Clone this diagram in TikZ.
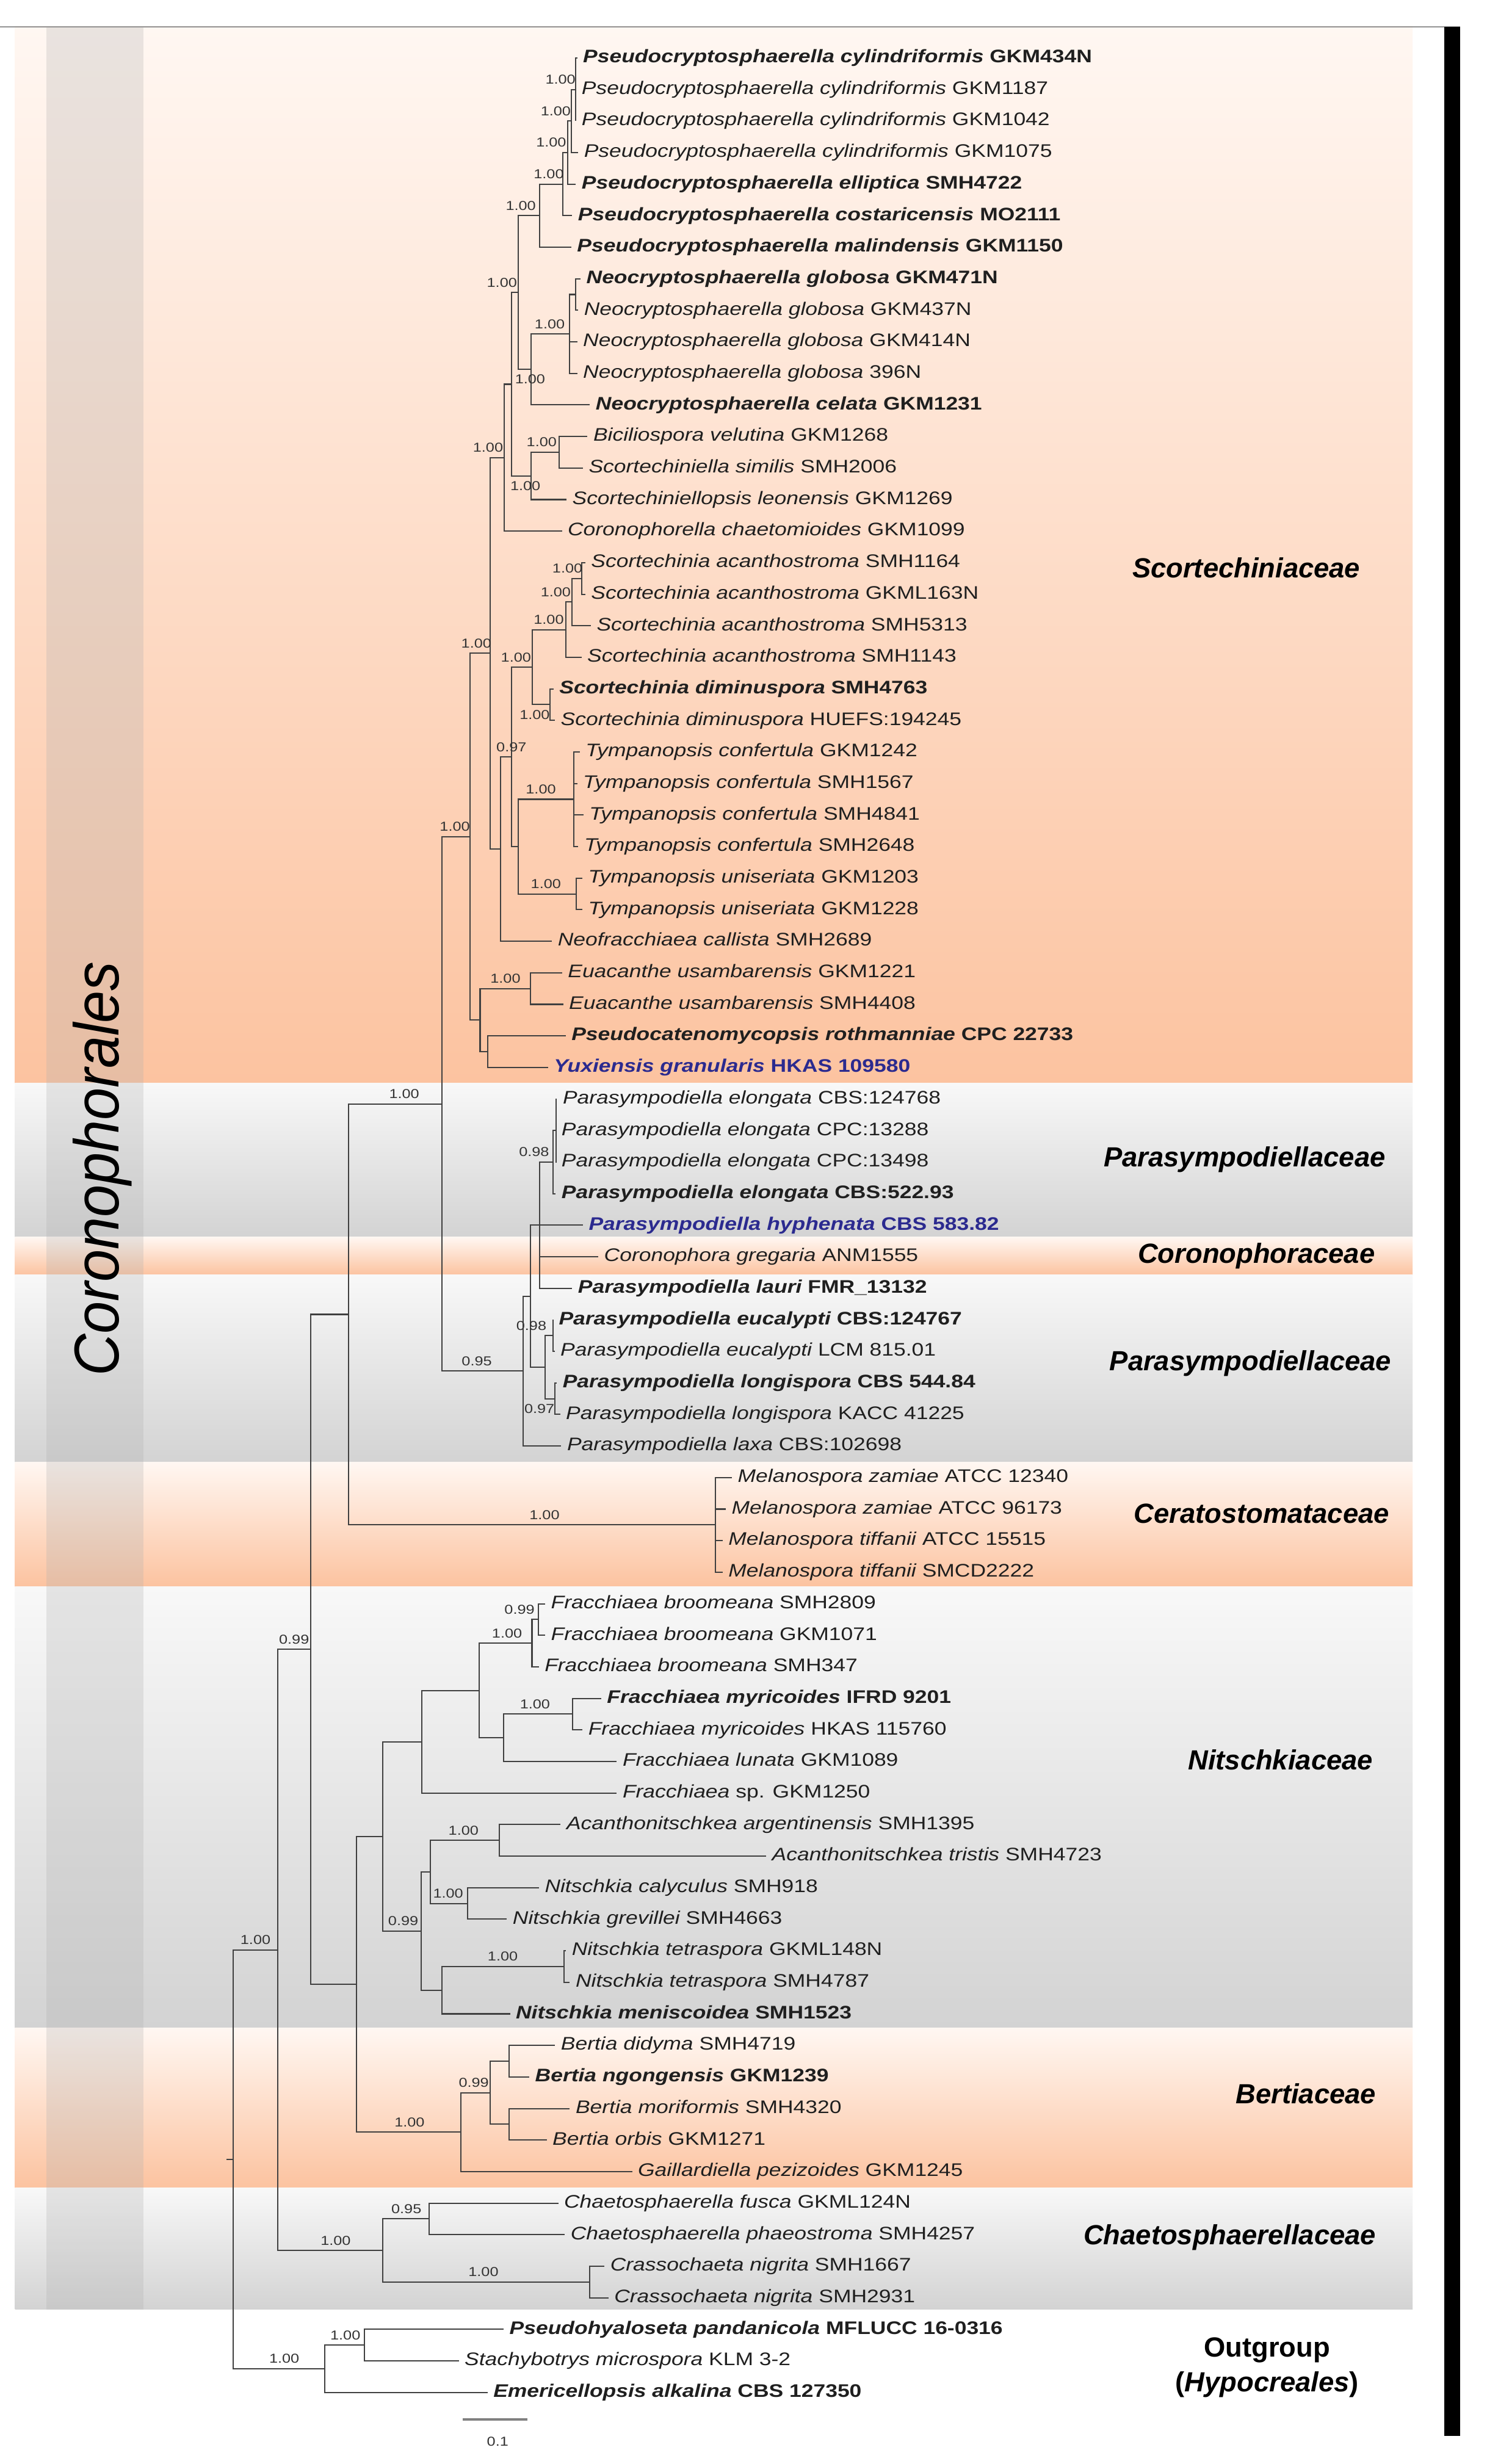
\documentclass[tikz,border=0pt]{standalone}
\usepackage{fontspec}
\newfontfamily\tx[FakeStretch=1.19]{Liberation Sans}
\newfontfamily\lsans{Liberation Sans}
\newfontfamily\lcoro[FakeStretch=0.92]{Liberation Sans}
\definecolor{orTop}{HTML}{FFF7F2}
\definecolor{orBot}{HTML}{FCC3A0}
\definecolor{grTop}{HTML}{F8F8F8}
\definecolor{grBot}{HTML}{D3D3D3}
\definecolor{blueT}{HTML}{2B2A8F}
\definecolor{colGray}{HTML}{AFAFAF}
\newcommand\nm[2]{{\itshape #1} #2}
\newcommand\bnm[2]{{\bfseries\itshape #1} {\bfseries #2}}
\newcommand\blnm[2]{\textcolor{blueT}{\bnm{#1}{#2}}}
\newcommand\tipn[3]{\node[tip] (t#1) at ({#2-3.5},#1) {#3};}
\newcommand\edg[2]{\draw[br] (#1) |- (#2);}
\newcommand\edt[2]{\draw[br] (#1) |- (t#2.west);}
\newcounter{lbc}
\newcommand\lbA[3]{\stepcounter{lbc}\node[lab, yshift=6.3pt] (lb\arabic{lbc}) at (#1,#2) {#3};}
\newcommand\lbB[3]{\stepcounter{lbc}\node[lab, yshift=-6.3pt] (lb\arabic{lbc}) at (#1,#2) {#3};}
\tikzset{
  br/.style={draw=black!75, line width=0.8pt},
  tip/.style={anchor=west, inner xsep=3.5pt, inner ysep=0pt, text height=8pt, text depth=2pt,
     font=\tx\fontsize{11.5}{13}\selectfont, text=black!88},
  lab/.style={inner sep=0pt, font=\tx\fontsize{8.2}{9}\selectfont, text=black!80},
  fam/.style={anchor=base east, inner sep=0pt, font=\lsans\fontsize{17.5}{20}\selectfont\bfseries\itshape},
  ogs/.style={anchor=base, inner sep=0pt, font=\lsans\fontsize{17.5}{20}\selectfont\bfseries},
}
\begin{document}
\begin{tikzpicture}[x=1pt,y=-1pt]
\useasboundingbox (0,0) rectangle (940,1557.8);
\fill[white] (0,0) rectangle (940,1557.8);
% bands
\shade[top color=orTop, bottom color=orBot] (9.5,16.5) rectangle (893,684.8);
\shade[top color=grTop, bottom color=grBot] (9.5,684.8) rectangle (893,782);
\shade[top color=orTop, bottom color=orBot] (9.5,782) rectangle (893,806);
\shade[top color=grTop, bottom color=grBot] (9.5,806) rectangle (893,924.5);
\shade[top color=orTop, bottom color=orBot] (9.5,924.5) rectangle (893,1003);
\shade[top color=grTop, bottom color=grBot] (9.5,1003) rectangle (893,1282);
\shade[top color=orTop, bottom color=orBot] (9.5,1282) rectangle (893,1383);
\shade[top color=grTop, bottom color=grBot] (9.5,1383) rectangle (893,1460);
\fill[colGray, opacity=0.27] (29.5,16.5) rectangle (90.5,1460);
\node[rotate=90, anchor=base, inner sep=0pt, font=\lcoro\fontsize{40}{44}\selectfont\itshape] (corolab) at (75,739) {Coronophorales};
% frame
\draw[gray!85, line width=1pt] (0,17) -- (923,17);
\fill[black] (913,17) rectangle (923,1540);
% family labels
\node[fam] (f1) at (860,365.2) {Scortechiniaceae};
\node[fam] (f2) at (876,737.5) {Parasympodiellaceae};
\node[fam] (f3) at (869.3,798.5) {Coronophoraceae};
\node[fam] (f4) at (879.7,866.6) {Parasympodiellaceae};
\node[fam] (f5) at (878.4,962.9) {Ceratostomataceae};
\node[fam] (f6) at (868,1118.9) {Nitschkiaceae};
\node[fam] (f7) at (870,1329.8) {Bertiaceae};
\node[fam] (f8) at (870,1419.2) {Chaetosphaerellaceae};
\node[ogs] (og1) at (801,1490) {Outgroup};
\node[ogs] (og2) at (801,1512) {(\textit{Hypocreales})};
% scale bar
\coordinate (sb1) at (292.6,1529.6);
\coordinate (sb2) at (333.3,1529.6);
\draw[gray, line width=1.2pt] (sb1) -- (sb2);
\node[lab] (sbl) at (314.6,1543.5) {0.1};
% tree
\begin{scope}[y=-19.945pt, yshift=-16.655pt]
\tipn{1}{368.4}{\bnm{Pseudocryptosphaerella cylindriformis}{GKM434N}}
\tipn{2}{367.5}{\nm{Pseudocryptosphaerella cylindriformis}{GKM1187}}
\tipn{3}{367.5}{\nm{Pseudocryptosphaerella cylindriformis}{GKM1042}}
\tipn{4}{369.0}{\nm{Pseudocryptosphaerella cylindriformis}{GKM1075}}
\tipn{5}{367.5}{\bnm{Pseudocryptosphaerella elliptica}{SMH4722}}
\tipn{6}{365.2}{\bnm{Pseudocryptosphaerella costaricensis}{MO2111}}
\tipn{7}{364.6}{\bnm{Pseudocryptosphaerella malindensis}{GKM1150}}
\tipn{8}{370.5}{\bnm{Neocryptosphaerella globosa}{GKM471N}}
\tipn{9}{369.0}{\nm{Neocryptosphaerella globosa}{GKM437N}}
\tipn{10}{368.4}{\nm{Neocryptosphaerella globosa}{GKM414N}}
\tipn{11}{368.4}{\nm{Neocryptosphaerella globosa}{396N}}
\tipn{12}{376.4}{\bnm{Neocryptosphaerella celata}{GKM1231}}
\tipn{13}{374.9}{\nm{Biciliospora velutina}{GKM1268}}
\tipn{14}{372.0}{\nm{Scortechiniella similis}{SMH2006}}
\tipn{15}{361.6}{\nm{Scortechiniellopsis leonensis}{GKM1269}}
\tipn{16}{358.7}{\nm{Coronophorella chaetomioides}{GKM1099}}
\tipn{17}{373.5}{\nm{Scortechinia acanthostroma}{SMH1164}}
\tipn{18}{373.5}{\nm{Scortechinia acanthostroma}{GKML163N}}
\tipn{19}{377.0}{\nm{Scortechinia acanthostroma}{SMH5313}}
\tipn{20}{371.1}{\nm{Scortechinia acanthostroma}{SMH1143}}
\tipn{21}{353.4}{\bnm{Scortechinia diminuspora}{SMH4763}}
\tipn{22}{354.3}{\nm{Scortechinia diminuspora}{HUEFS:194245}}
\tipn{23}{370.0}{\nm{Tympanopsis confertula}{GKM1242}}
\tipn{24}{368.4}{\nm{Tympanopsis confertula}{SMH1567}}
\tipn{25}{372.3}{\nm{Tympanopsis confertula}{SMH4841}}
\tipn{26}{369.1}{\nm{Tympanopsis confertula}{SMH2648}}
\tipn{27}{371.6}{\nm{Tympanopsis uniseriata}{GKM1203}}
\tipn{28}{371.6}{\nm{Tympanopsis uniseriata}{GKM1228}}
\tipn{29}{352.4}{\nm{Neofracchiaea callista}{SMH2689}}
\tipn{30}{358.8}{\nm{Euacanthe usambarensis}{GKM1221}}
\tipn{31}{359.5}{\nm{Euacanthe usambarensis}{SMH4408}}
\tipn{32}{361.1}{\bnm{Pseudocatenomycopsis rothmanniae}{CPC 22733}}
\tipn{33}{349.9}{\blnm{Yuxiensis granularis}{HKAS 109580}}
\tipn{34}{355.6}{\nm{Parasympodiella elongata}{CBS:124768}}
\tipn{35}{354.8}{\nm{Parasympodiella elongata}{CPC:13288}}
\tipn{36}{354.8}{\nm{Parasympodiella elongata}{CPC:13498}}
\tipn{37}{354.8}{\bnm{Parasympodiella elongata}{CBS:522.93}}
\tipn{38}{372.0}{\blnm{Parasympodiella hyphenata}{CBS 583.82}}
\tipn{39}{381.7}{\nm{Coronophora gregaria}{ANM1555}}
\tipn{40}{365.2}{\bnm{Parasympodiella lauri}{FMR\_13132}}
\tipn{41}{353.1}{\bnm{Parasympodiella eucalypti}{CBS:124767}}
\tipn{42}{354.1}{\nm{Parasympodiella eucalypti}{LCM 815.01}}
\tipn{43}{355.5}{\bnm{Parasympodiella longispora}{CBS 544.84}}
\tipn{44}{357.6}{\nm{Parasympodiella longispora}{KACC 41225}}
\tipn{45}{358.3}{\nm{Parasympodiella laxa}{CBS:102698}}
\tipn{46}{466.2}{\nm{Melanospora zamiae}{ATCC 12340}}
\tipn{47}{462.3}{\nm{Melanospora zamiae}{ATCC 96173}}
\tipn{48}{460.3}{\nm{Melanospora tiffanii}{ATCC 15515}}
\tipn{49}{460.3}{\nm{Melanospora tiffanii}{SMCD2222}}
\tipn{50}{348.1}{\nm{Fracchiaea broomeana}{SMH2809}}
\tipn{51}{348.1}{\nm{Fracchiaea broomeana}{GKM1071}}
\tipn{52}{344.1}{\nm{Fracchiaea broomeana}{SMH347}}
\tipn{53}{383.5}{\bnm{Fracchiaea myricoides}{IFRD 9201}}
\tipn{54}{371.7}{\nm{Fracchiaea myricoides}{HKAS 115760}}
\tipn{55}{393.4}{\nm{Fracchiaea lunata}{GKM1089}}
\tipn{56}{393.4}{\nm{Fracchiaea}{sp. GKM1250}}
\tipn{57}{357.9}{\nm{Acanthonitschkea argentinensis}{SMH1395}}
\tipn{58}{487.8}{\nm{Acanthonitschkea tristis}{SMH4723}}
\tipn{59}{344.2}{\nm{Nitschkia calyculus}{SMH918}}
\tipn{60}{323.9}{\nm{Nitschkia grevillei}{SMH4663}}
\tipn{61}{361.3}{\nm{Nitschkia tetraspora}{GKML148N}}
\tipn{62}{363.7}{\nm{Nitschkia tetraspora}{SMH4787}}
\tipn{63}{325.9}{\bnm{Nitschkia meniscoidea}{SMH1523}}
\tipn{64}{354.4}{\nm{Bertia didyma}{SMH4719}}
\tipn{65}{338.1}{\bnm{Bertia ngongensis}{GKM1239}}
\tipn{66}{363.7}{\nm{Bertia moriformis}{SMH4320}}
\tipn{67}{349.1}{\nm{Bertia orbis}{GKM1271}}
\tipn{68}{403.1}{\nm{Gaillardiella pezizoides}{GKM1245}}
\tipn{69}{356.4}{\nm{Chaetosphaerella fusca}{GKML124N}}
\tipn{70}{360.5}{\nm{Chaetosphaerella phaeostroma}{SMH4257}}
\tipn{71}{385.6}{\nm{Crassochaeta nigrita}{SMH1667}}
\tipn{72}{388.1}{\nm{Crassochaeta nigrita}{SMH2931}}
\tipn{73}{321.9}{\bnm{Pseudohyaloseta pandanicola}{MFLUCC 16-0316}}
\tipn{74}{293.5}{\nm{Stachybotrys microspora}{KLM 3-2}}
\tipn{75}{311.7}{\bnm{Emericellopsis alkalina}{CBS 127350}}
% internal nodes
\coordinate (ROOT0) at (143.2,67.6113);
\coordinate (ROOT) at (147.3,67.6113);
\coordinate (RT1) at (175.7,60.9727);
\coordinate (L0) at (196.5,51.4453);
\coordinate (L1) at (220.5,40.8281);
\coordinate (K) at (279.5,34.1563);
\coordinate (ST) at (297.1,25.6875);
\coordinate (W) at (310.0,19.875);
\coordinate (Q) at (318.8,13.6719);
\coordinate (R) at (323.3,11.3438);
\coordinate (P) at (327.7,8.4375);
\coordinate (A) at (341.0,6);
\coordinate (B) at (355.7,5);
\coordinate (C) at (358.7,4);
\coordinate (D) at (361.1,3);
\coordinate (E) at (364.0,2);
\coordinate (NC) at (335.7,10.875);
\coordinate (NG) at (360.2,9.75);
\coordinate (G1) at (364.0,8.5);
\coordinate (S) at (335.7,14.25);
\coordinate (T) at (353.4,13.5);
\coordinate (Z) at (316.3,26.0781);
\coordinate (U) at (323.3,23.1563);
\coordinate (SA4) at (336.5,20.3125);
\coordinate (SA3) at (357.8,19.125);
\coordinate (SA2) at (361.6,18.25);
\coordinate (SA1) at (367.6,17.5);
\coordinate (SD) at (347.5,21.5);
\coordinate (TT) at (327.5,26);
\coordinate (TC) at (362.7,24.5);
\coordinate (TU) at (364.3,27.5);
\coordinate (EP) at (303.5,31.5);
\coordinate (EU) at (335.5,30.5);
\coordinate (PY) at (308.3,32.5);
\coordinate (PN) at (330.7,42.625);
\coordinate (PA) at (335.2,40.25);
\coordinate (PB) at (341.0,38);
\coordinate (PEL) at (349.6,36);
\coordinate (PELa) at (351.5,35);
\coordinate (PE) at (344.5,42.5);
\coordinate (PEU) at (349.6,41.5);
\coordinate (PLO) at (350.7,43.5);
\coordinate (CE) at (452.4,47.5);
\coordinate (N00) at (225.3,62.0625);
\coordinate (N0) at (241.8,57.375);
\coordinate (FF) at (266.6,54.375);
\coordinate (FR) at (302.8,52.75);
\coordinate (FB) at (336.3,51.25);
\coordinate (FBa) at (340.2,50.5);
\coordinate (FML) at (318.5,54.25);
\coordinate (FM) at (361.9,53.5);
\coordinate (NN) at (266.2,60.375);
\coordinate (ANC) at (272.2,58.5);
\coordinate (AC) at (315.8,57.5);
\coordinate (NCG) at (295.5,59.5);
\coordinate (NTM) at (279.2,62.25);
\coordinate (NT) at (356.4,61.5);
\coordinate (BE) at (291.4,66.75);
\coordinate (BB) at (309.7,65.5);
\coordinate (BD) at (321.9,64.5);
\coordinate (BMO) at (321.9,66.5);
\coordinate (CH) at (241.9,70.5);
\coordinate (CF) at (271.1,69.5);
\coordinate (CN) at (372.6,71.5);
\coordinate (OG) at (205.3,74.25);
\coordinate (OGa) at (230.5,73.5);
% edges
\draw[br] (ROOT0) -- (ROOT);
\edg{ROOT}{RT1} \edg{ROOT}{OG}
\edg{RT1}{L0} \edg{RT1}{CH}
\edg{L0}{L1} \edg{L0}{N00}
\edg{L1}{K} \edg{L1}{CE}
\edg{K}{ST} \edg{K}{PN}
\edg{ST}{W} \edg{ST}{EP}
\edg{W}{Q} \edg{W}{Z}
\edg{Q}{R} \edt{Q}{16}
\edg{R}{P} \edg{R}{S}
\edg{P}{A} \edg{P}{NC}
\edg{A}{B} \edt{A}{7}
\edg{B}{C} \edt{B}{6}
\edg{C}{D} \edt{C}{5}
\edg{D}{E} \edt{D}{4}
\edt{E}{1} \edt{E}{2} \edt{E}{3}
\edg{NC}{NG} \edt{NC}{12}
\edg{NG}{G1} \edt{NG}{10} \edt{NG}{11}
\edt{G1}{8} \edt{G1}{9}
\edg{S}{T} \edt{S}{15}
\edt{T}{13} \edt{T}{14}
\edg{Z}{U} \edt{Z}{29}
\edg{U}{SA4} \edg{U}{TT}
\edg{SA4}{SA3} \edg{SA4}{SD}
\edg{SA3}{SA2} \edt{SA3}{20}
\edg{SA2}{SA1} \edt{SA2}{19}
\edt{SA1}{17} \edt{SA1}{18}
\edt{SD}{21} \edt{SD}{22}
\edg{TT}{TC} \edg{TT}{TU}
\edt{TC}{23} \edt{TC}{24} \edt{TC}{25} \edt{TC}{26}
\edt{TU}{27} \edt{TU}{28}
\edg{EP}{EU} \edg{EP}{PY}
\edt{EU}{30} \edt{EU}{31}
\edt{PY}{32} \edt{PY}{33}
\edg{PN}{PA} \edt{PN}{45}
\edg{PA}{PB} \edg{PA}{PE}
\edg{PB}{PEL} \edt{PB}{38} \edt{PB}{39} \edt{PB}{40}
\edg{PEL}{PELa} \edt{PEL}{37}
\edt{PELa}{34} \edt{PELa}{35} \edt{PELa}{36}
\edg{PE}{PEU} \edg{PE}{PLO}
\edt{PEU}{41} \edt{PEU}{42}
\edt{PLO}{43} \edt{PLO}{44}
\edt{CE}{46} \edt{CE}{47} \edt{CE}{48} \edt{CE}{49}
\edg{N00}{N0} \edg{N00}{BE}
\edg{N0}{FF} \edg{N0}{NN}
\edg{FF}{FR} \edt{FF}{56}
\edg{FR}{FB} \edg{FR}{FML}
\edg{FB}{FBa} \edt{FB}{52}
\edt{FBa}{50} \edt{FBa}{51}
\edg{FML}{FM} \edt{FML}{55}
\edt{FM}{53} \edt{FM}{54}
\edg{NN}{ANC} \edg{NN}{NTM}
\edg{ANC}{AC} \edg{ANC}{NCG}
\edt{AC}{57} \edt{AC}{58}
\edt{NCG}{59} \edt{NCG}{60}
\edg{NTM}{NT} \edt{NTM}{63}
\edt{NT}{61} \edt{NT}{62}
\edg{BE}{BB} \edt{BE}{68}
\edg{BB}{BD} \edg{BB}{BMO}
\edt{BD}{64} \edt{BD}{65}
\edt{BMO}{66} \edt{BMO}{67}
\edg{CH}{CF} \edg{CH}{CN}
\edt{CF}{69} \edt{CF}{70}
\edt{CN}{71} \edt{CN}{72}
\edg{OG}{OGa} \edt{OG}{75}
\edt{OGa}{73} \edt{OGa}{74}
% support values
\lbA{354.3}{2}{1.00}
\lbA{351.3}{3}{1.00}
\lbA{348.4}{4}{1.00}
\lbA{346.9}{5}{1.00}
\lbA{329.2}{6}{1.00}
\lbA{317.3}{8.4375}{1.00}
\lbA{347.5}{9.75}{1.00}
\lbB{335.1}{10.875}{1.00}
\lbA{342.4}{13.5}{1.00}
\lbB{332.1}{14.25}{1.00}
\lbA{308.5}{13.6719}{1.00}
\lbA{358.7}{17.5}{1.00}
\lbA{351.3}{18.25}{1.00}
\lbA{346.9}{19.125}{1.00}
\lbA{326.2}{20.3125}{1.00}
\lbB{338.0}{21.5}{1.00}
\lbA{301.1}{19.875}{1.00}
\lbA{323.3}{23.1563}{0.97}
\lbA{341.9}{24.5}{1.00}
\lbA{345.1}{27.5}{1.00}
\lbA{287.5}{25.6875}{1.00}
\lbA{319.5}{30.5}{1.00}
\lbA{255.5}{34.1563}{1.00}
\lbA{337.6}{36}{0.98}
\lbA{335.9}{41.5}{0.98}
\lbB{341.0}{43.5}{0.97}
\lbA{301.4}{42.625}{0.95}
\lbA{344.2}{47.5}{1.00}
\lbA{185.9}{51.4453}{0.99}
\lbA{328.4}{50.5}{0.99}
\lbA{320.5}{51.25}{1.00}
\lbA{338.2}{53.5}{1.00}
\lbA{293.0}{57.5}{1.00}
\lbA{283.3}{59.5}{1.00}
\lbA{254.9}{60.375}{0.99}
\lbA{317.8}{61.5}{1.00}
\lbA{299.5}{65.5}{0.99}
\lbA{258.9}{66.75}{1.00}
\lbA{161.5}{60.9727}{1.00}
\lbA{256.9}{69.5}{0.95}
\lbA{212.2}{70.5}{1.00}
\lbA{305.6}{71.5}{1.00}
\lbA{179.7}{74.25}{1.00}
\lbA{218.3}{73.5}{1.00}
\end{scope}
\end{tikzpicture}
\end{document}
